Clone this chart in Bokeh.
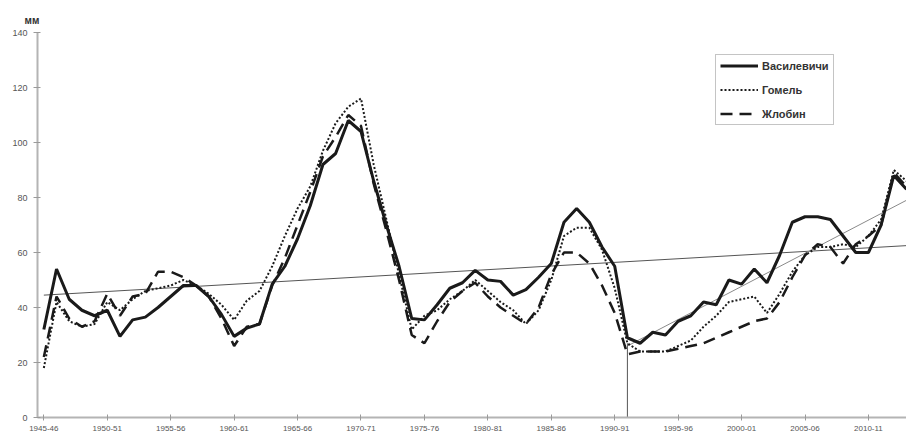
from bokeh.plotting import figure
from bokeh.models import (Range1d, FixedTicker, Legend, LegendItem, ColumnDataSource)
from bokeh.embed import file_html
from bokeh.resources import INLINE

# ---- data ----
tick_labels = ["1945-46", "1950-51", "1955-56", "1960-61", "1965-66", "1970-71",
               "1975-76", "1980-81", "1985-86", "1990-91", "1995-96", "2000-01",
               "2005-06", "2010-11"]

vasilevichi = [32, 54, 43, 39, 37, 39, 29.5, 35.5, 36.5, 40,
               44, 48, 48, 44, 37.5, 29.5, 32.5, 34, 48.5, 55,
               65, 77, 92, 96, 108, 104, 86, 70, 55, 36,
               35.5, 41, 47, 49, 53.5, 50, 49.5, 44.5, 46.5, 51,
               56, 71, 76, 71, 62, 55, 29, 27, 31, 30,
               35, 37, 42, 41, 50, 48.5, 54, 49, 59, 71,
               73, 73, 72, 66, 60, 60, 70, 88, 83]

gomel = [18, 42, 35, 33, 34, 42, 39, 43, 46, 47,
         48, 50, 48, 45, 41, 35.5, 42.5, 46, 55, 66,
         76, 84, 97, 107, 113, 116, 92, 72, 52, 32,
         37, 39, 43, 46, 50, 46, 42, 39, 34, 39,
         50, 66, 69, 69, 61, 47, 27, 24, 24, 24,
         26, 28, 33, 37, 42, 43, 44, 38, 45, 53,
         59, 62, 62, 63, 62, 66, 72, 90, 86]

zhlobin = [22, 44, 36, 33, 35, 45, 37, 44, 45, 53,
           53, 51, 48, 44, 36, 26, 33, 34, 48, 58,
           70, 82, 95, 102, 110, 106, 85, 68, 50, 30,
           27, 35, 42, 46, 49, 44, 40, 37, 34, 40,
           52, 60, 60, 56, 48, 38, 23, 24, 24, 24,
           25, 26, 27, 29, 31, 33, 35, 36, 42, 51,
           59, 63, 62, 56, 63, 66, 70, 89, 84]

# linear trends (start / end values) and the drop line
trend_all_idx = [0, 68]
trend_all_val = [44.5, 62.5]
trend_recent_idx = [46, 68]
trend_recent_val = [26, 79]
drop_idx = [46, 46]
drop_val = [27, 0]

y_ticks = [0, 20, 40, 60, 80, 100, 120, 140]

# ---- figure ----
n = len(vasilevichi)
xc = [i + 0.5 for i in range(n)]
src = ColumnDataSource(dict(x=xc, v=vasilevichi, g=gomel, z=zhlobin))

FONT = "Liberation Sans"
p = figure(width=906, height=436, output_backend="svg", toolbar_location=None,
           x_range=Range1d(0, n - 0.5), y_range=Range1d(0, 140),
           min_border_left=37, min_border_right=0, min_border_top=32,
           min_border_bottom=19, title="мм")
p.outline_line_color = None
p.background_fill_color = "white"
p.border_fill_color = "white"
p.xgrid.visible = False
p.ygrid.ticker = FixedTicker(ticks=[140])
p.ygrid.grid_line_color = "#c8c8c8"
p.ygrid.grid_line_width = 1.5

p.title.align = "left"
p.title.offset = -13
p.title.standoff = 13
p.title.text_font = FONT
p.title.text_font_size = "10px"
p.title.text_font_style = "bold"
p.title.text_color = "#333333"

lab_pos = [5 * k + 0.5 for k in range(len(tick_labels))]
xa = p.xaxis[0]
xa.ticker = FixedTicker(ticks=lab_pos)
xa.major_label_overrides = {pos: lab for pos, lab in zip(lab_pos, tick_labels)}
xa.major_tick_in = 3
xa.major_tick_out = 3
xa.minor_tick_line_color = None
xa.axis_line_color = "#b4b4b4"
xa.axis_line_width = 2
xa.major_tick_line_color = "#9a9a9a"
xa.major_label_standoff = 5
xa.major_label_text_font = FONT
xa.major_label_text_font_size = "8px"
xa.major_label_text_color = "#555555"

ya = p.yaxis[0]
ya.ticker = FixedTicker(ticks=y_ticks)
ya.major_tick_in = 3
ya.major_tick_out = 4
ya.minor_tick_line_color = None
ya.axis_line_color = "#b4b4b4"
ya.axis_line_width = 2
ya.major_tick_line_color = "#9a9a9a"
ya.major_label_text_font = FONT
ya.major_label_text_font_size = "9px"
ya.major_label_text_color = "#555555"
ya.major_label_standoff = 6

# trend lines
p.line([i + 0.5 for i in trend_all_idx], trend_all_val, line_color="#555555", line_width=1)
p.line([i + 0.5 for i in trend_recent_idx], trend_recent_val, line_color="#8a8a8a", line_width=1)
p.line([i + 0.5 for i in drop_idx], drop_val, line_color="#555555", line_width=1)

r1 = p.line("x", "v", source=src, line_color="#1a1a1a", line_width=3)
r2 = p.line("x", "g", source=src, line_color="#1a1a1a", line_width=2, line_dash="2 2")
r3 = p.line("x", "z", source=src, line_color="#1a1a1a", line_width=2.5, line_dash="12 7")

legend = Legend(items=[LegendItem(label="Василевичи", renderers=[r1]),
                       LegendItem(label="Гомель", renderers=[r2]),
                       LegendItem(label="Жлобин", renderers=[r3])],
                location=(678, 292), margin=0, padding=4, spacing=11,
                glyph_width=38, glyph_height=13, label_height=13, label_standoff=4,
                label_text_font=FONT, label_text_font_size="11px",
                label_text_font_style="bold",
                label_text_color="#333333",
                border_line_color="#8a8a8a", border_line_width=1,
                background_fill_color="white", background_fill_alpha=1)
p.add_layout(legend)

open("out.html", "w").write(file_html(p, INLINE))
